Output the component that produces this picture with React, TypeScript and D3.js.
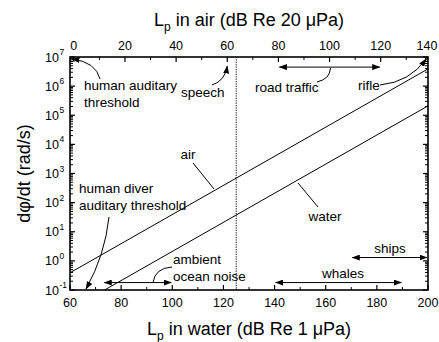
import * as d3 from "d3";

const waterTicks = [60, 80, 100, 120, 140, 160, 180, 200];
const waterMinor = [70, 90, 110, 130, 150, 170, 190];
const airTicks = [0, 20, 40, 60, 80, 100, 120, 140];
const airMinor = [10, 30, 50, 70, 90, 110, 130];
const airOffset = 61.5; // dB in water - dB in air
const yExponents = [-1, 0, 1, 2, 3, 4, 5, 6, 7];

const airLine: [number, number][] = [[60, 0.39], [200, 3.9e6]];
const waterLine: [number, number][] = [[73.5, 0.1], [200, 2.1e5]];
const dottedAt = 125;

// double arrows (water dB unless noted)
const ranges = [
  { name: "road traffic", from: 80 + airOffset, to: 120 + airOffset, y: 4.5e6 },
  { name: "ambient ocean noise", from: 73, to: 100, y: 0.18 },
  { name: "whales", from: 140, to: 190, y: 0.18 },
  { name: "ships", from: 170, to: 200, y: 1.3 },
];

const W = 439;
const H = 342;
const font = "Liberation Sans, Arial, sans-serif";

export default function App() {
  const x = d3.scaleLinear().domain([60, 200]).range([70, 428]);
  const xAir = d3.scaleLinear().domain([60 - airOffset, 200 - airOffset]).range([70, 428]);
  const y = d3.scaleLog().domain([0.1, 1e7]).range([290, 57]);
  const line = d3.line<[number, number]>().x((d) => x(d[0])).y((d) => y(d[1]));

  const minorY: number[] = [];
  yExponents.slice(0, -1).forEach((e) => {
    for (let m = 2; m < 10; m++) minorY.push(m * Math.pow(10, e));
  });

  const [x0, x1] = x.range();
  const [y0, y1] = y.range();

  return (
    <svg width={W} height={H} style={{ position: "absolute", left: 0, top: 0 }} fontFamily={font}>
      <defs>
        <marker id="ah" viewBox="0 0 8 6" refX="7.5" refY="3" markerWidth="8" markerHeight="6"
          markerUnits="userSpaceOnUse" orient="auto-start-reverse">
          <path d="M0,0 L8,3 L0,6 z" fill="#000" />
        </marker>
      </defs>
      <rect width={W} height={H} fill="#fff" />

      {/* data lines */}
      <path d={line(airLine) || ""} fill="none" stroke="#000" strokeWidth={1} />
      <path d={line(waterLine) || ""} fill="none" stroke="#000" strokeWidth={1} />
      <line x1={x(dottedAt)} x2={x(dottedAt)} y1={y1} y2={y0} stroke="#000" strokeWidth={1} strokeDasharray="1.2,1.2" />

      {/* frame */}
      <rect x={x0} y={y1} width={x1 - x0} height={y0 - y1} fill="none" stroke="#000" strokeWidth={1.6} />

      {/* bottom ticks */}
      {waterTicks.map((t) => (
        <g key={"b" + t}>
          <line x1={x(t)} x2={x(t)} y1={y0} y2={y0 - 5} stroke="#000" strokeWidth={1.2} />
          <text x={x(t)} y={306.5} fontSize={12.5} textAnchor="middle">{t}</text>
        </g>
      ))}
      {waterMinor.map((t) => (
        <line key={"bm" + t} x1={x(t)} x2={x(t)} y1={y0} y2={y0 - 3} stroke="#000" strokeWidth={1} />
      ))}
      {/* top ticks */}
      {airTicks.map((t) => (
        <g key={"t" + t}>
          {xAir(t) <= x1 && <line x1={xAir(t)} x2={xAir(t)} y1={y1} y2={y1 + 5} stroke="#000" strokeWidth={1.2} />}
          <text x={Math.min(xAir(t), 427)} y={49.5} fontSize={12.5} textAnchor="middle">{t}</text>
        </g>
      ))}
      {airMinor.map((t) => (
        <line key={"tm" + t} x1={xAir(t)} x2={xAir(t)} y1={y1} y2={y1 + 3} stroke="#000" strokeWidth={1} />
      ))}
      {/* y ticks */}
      {yExponents.map((e) => {
        const v = Math.pow(10, e);
        return (
          <g key={"y" + e}>
            <line x1={x0} x2={x0 + 5} y1={y(v)} y2={y(v)} stroke="#000" strokeWidth={1.2} />
            <line x1={x1} x2={x1 - 5} y1={y(v)} y2={y(v)} stroke="#000" strokeWidth={1.2} />
            <text x={59} y={y(v) + 4.5} fontSize={12.5} textAnchor="end">10</text>
            <text x={59.5} y={y(v) - 2} fontSize={8.5} textAnchor="start">{e}</text>
          </g>
        );
      })}
      {minorY.map((v, i) => (
        <g key={"ym" + i}>
          <line x1={x0} x2={x0 + 3} y1={y(v)} y2={y(v)} stroke="#000" strokeWidth={1} />
          <line x1={x1} x2={x1 - 3} y1={y(v)} y2={y(v)} stroke="#000" strokeWidth={1} />
        </g>
      ))}

      {/* axis titles */}
      <text x={249} y={26} fontSize={18} textAnchor="middle">
        L<tspan fontSize={12} dy={5}>p</tspan><tspan dy={-5}> in air (dB Re 20 μPa)</tspan>
      </text>
      <text x={249} y={335} fontSize={18} textAnchor="middle">
        L<tspan fontSize={12} dy={5}>p</tspan><tspan dy={-5}> in water (dB Re 1 μPa)</tspan>
      </text>
      <text transform={`translate(30,${(y0 + y1) / 2}) rotate(-90)`} fontSize={18} textAnchor="middle">
        dφ/dt (rad/s)
      </text>

      {/* range arrows */}
      {ranges.map((r) => (
        <line key={r.name} x1={x(r.from) + 1} x2={x(r.to) - 1} y1={y(r.y)} y2={y(r.y)}
          stroke="#000" strokeWidth={1} markerStart="url(#ah)" markerEnd="url(#ah)" />
      ))}

      {/* annotations */}
      <g fontSize={13.5} fill="#000">
        <text x={84} y={90}>human auditary</text>
        <text x={84} y={107}>threshold</text>
        <path d="M100,79 Q96,62 72,59" fill="none" stroke="#000" markerEnd="url(#ah)" />

        <text x={181} y={97}>speech</text>
        <path d={`M212,85 Q225,81 ${xAir(60)},66`} fill="none" stroke="#000" markerEnd="url(#ah)" />

        <text x={255} y={92}>road traffic</text>
        <path d={`M${xAir(100) + 1},${y(4.5e6) + 1} Q330,79 317,82`} fill="none" stroke="#000" />

        <text x={358} y={90}>rifle</text>
        <path d="M380,85 Q410,82 426,59" fill="none" stroke="#000" markerEnd="url(#ah)" />

        <text x={188} y={159} textAnchor="middle">air</text>
        <path d="M193,163 L214,189" fill="none" stroke="#000" />

        <text x={325} y={221} textAnchor="middle">water</text>
        <path d="M298,183 L318,207" fill="none" stroke="#000" />

        <text x={79} y={193}>human diver</text>
        <text x={79} y={210}>auditary threshold</text>
        <path d="M109,217 Q105,255 86,289" fill="none" stroke="#000" markerEnd="url(#ah)" />

        <text x={173} y={264}>ambient</text>
        <text x={173} y={281}>ocean noise</text>
        <path d={`M153,${y(0.18)} Q155,268 172,267`} fill="none" stroke="#000" />

        <text x={343} y={278} textAnchor="middle">whales</text>
        <text x={390} y={253} textAnchor="middle">ships</text>
      </g>
    </svg>
  );
}
